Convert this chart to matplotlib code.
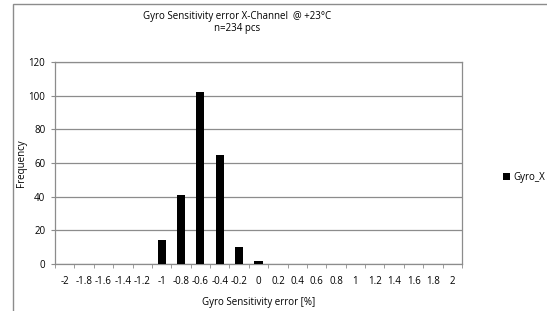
import matplotlib.pyplot as plt
import matplotlib
from matplotlib.patches import Rectangle

# data
bins = ['-2', '-1.8', '-1.6', '-1.4', '-1.2', '-1', '-0.8', '-0.6', '-0.4', '-0.2', '0',
        '0.2', '0.4', '0.6', '0.8', '1', '1.2', '1.4', '1.6', '1.8', '2']
counts = [0, 0, 0, 0, 0, 14, 41, 102, 65, 10, 2, 0, 0, 0, 0, 0, 0, 0, 0, 0, 0]
yticks = [0, 20, 40, 60, 80, 100, 120]

matplotlib.rcParams['font.family'] = 'Open Sans'
matplotlib.rcParams['font.size'] = 7

W, H = 547, 311
fig = plt.figure(figsize=(W / 100, H / 100), dpi=100)
ax = fig.add_axes([55 / W, 1 - 264 / H, 407 / W, 202 / H])

# outer chart frame (cropped at right/bottom)
fig.patches.append(Rectangle((13 / W, -0.1), 1.2, 1 - 4 / H + 0.1, transform=fig.transFigure,
                             fill=False, edgecolor='#8c8c8c', linewidth=1))

x = range(len(bins))
ax.bar(x, counts, width=0.42, color='black', label='Gyro_X', zorder=3)

ax.set_xlim(-0.5, len(bins) - 0.5)
ax.set_ylim(0, 120)
ax.set_yticks(yticks)
ax.grid(axis='y', color='#8c8c8c', linewidth=0.9, zorder=0)

ax.set_xticks(x)
ax.set_xticklabels(bins)
ax.set_xticks([i - 0.5 for i in range(len(bins) + 1)], minor=True)
ax.tick_params(axis='x', which='major', length=0, pad=9)
ax.tick_params(axis='x', which='minor', length=3, color='#8c8c8c')
ax.tick_params(axis='y', length=3, color='#8c8c8c', pad=4)

for s in ax.spines.values():
    s.set_color('#8c8c8c')
    s.set_linewidth(0.9)

ax.set_xlabel('Gyro Sensitivity error [%]', labelpad=7)
ax.set_ylabel('Frequency')
ax.yaxis.set_label_coords(-0.068, 0.5)

fig.text(237 / W, 1 - 16 / H, 'Gyro Sensitivity error X-Channel  @ +23°C', ha='center', va='center')
fig.text(237 / W, 1 - 29 / H, 'n=234 pcs', ha='center', va='center')

ax.legend(loc='center left', bbox_to_anchor=(1.08, 0.43), frameon=False,
          handlelength=0.7, handleheight=0.7, handletextpad=0.3)

plt.savefig('out.png', dpi=100)
